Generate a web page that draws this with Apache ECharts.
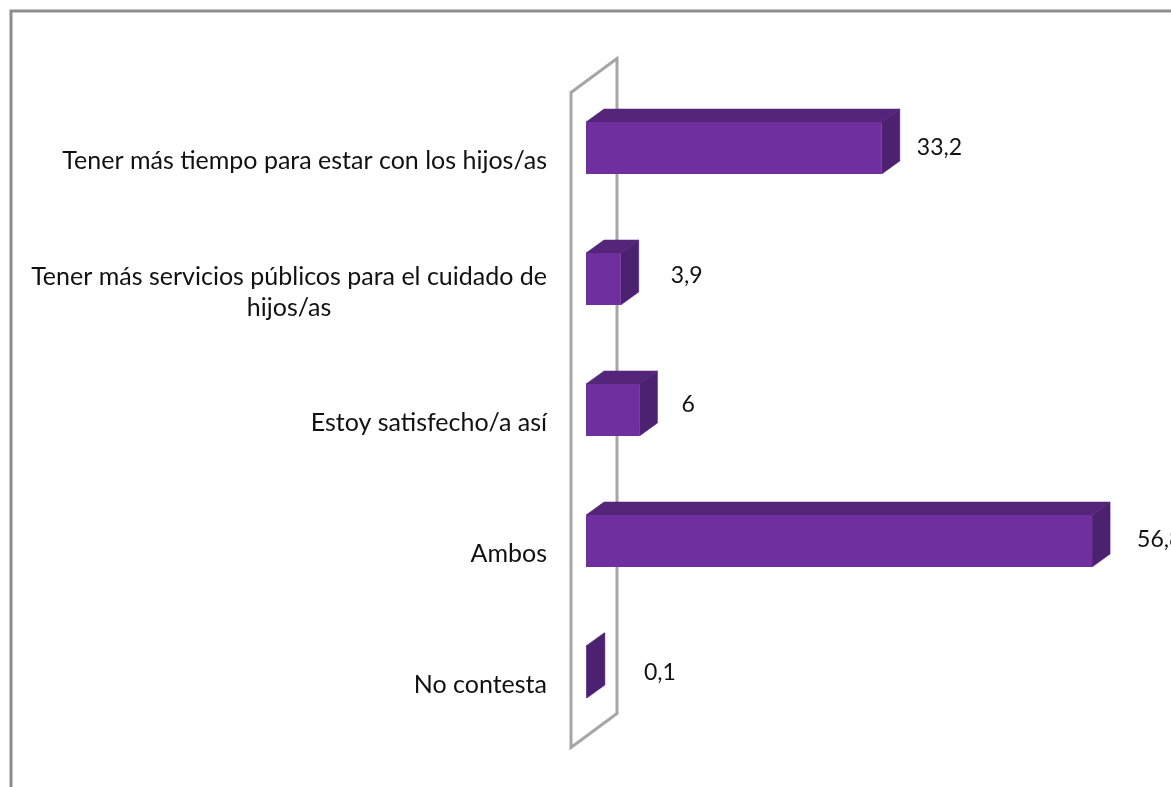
<!DOCTYPE html>
<html>
<head>
<meta charset="utf-8">
<script src="https://cdn.jsdelivr.net/npm/echarts@6/dist/echarts.min.js"></script>
<style>
  html, body { margin: 0; padding: 0; background: #fff; }
  #main { width: 1171px; height: 787px; }
</style>
</head>
<body>
<div id="main"></div>
<script>
const categories = [
  'Tener más tiempo para estar con los hijos/as',
  'Tener más servicios públicos para el cuidado de\nhijos/as',
  'Estoy satisfecho/a así',
  'Ambos',
  'No contesta'
];
const values = [33.2, 3.9, 6, 56.8, 0.1];

const FONT = 'Lato, "Open Sans", sans-serif';
const DEPTH_X = 18;
const DEPTH_Y = -13;
// the value labels were placed by hand in the original, so each has its own gap
const labelGap = [35, 50, 42, 45, 57];
const labelRise = [0, 3, 5, 1, -1];

const myChart = echarts.init(document.getElementById('main'));

function renderBar(params, api) {
  const i = api.value(2);
  const end = api.coord([api.value(0), i]);
  const start = api.coord([0, i]);
  const h = api.size([0, 1])[1] * 0.397;
  const x0 = start[0], x1 = end[0];
  const y0 = end[1] - h / 2, y1 = end[1] + h / 2;
  const poly = (points, fill) => ({
    type: 'polygon',
    shape: { points },
    style: { fill, stroke: fill, lineWidth: 0.5 }
  });
  return {
    type: 'group',
    children: [
      poly([[x0, y0], [x0 + DEPTH_X, y0 + DEPTH_Y], [x1 + DEPTH_X, y0 + DEPTH_Y], [x1, y0]], '#55257c'),
      poly([[x1, y0], [x1 + DEPTH_X, y0 + DEPTH_Y], [x1 + DEPTH_X, y1 + DEPTH_Y], [x1, y1]], '#4b2170'),
      { type: 'rect', shape: { x: x0, y: y0, width: x1 - x0, height: h }, style: { fill: '#6f2f9f' } },
      {
        type: 'text',
        style: {
          x: x1 + labelGap[i],
          y: end[1] - labelRise[i],
          text: String(api.value(0)).replace('.', ','),
          font: '23px ' + FONT,
          fill: '#111',
          verticalAlign: 'middle'
        }
      }
    ]
  };
}

function renderWall(params, api) {
  const cs = params.coordSys;
  const xl = cs.x - 15, xr = cs.x + 31;
  const top = cs.y, bottom = cs.y + cs.height;
  return {
    type: 'polygon',
    shape: { points: [[xl, top + 10], [xr, top - 24], [xr, bottom - 24], [xl, bottom + 10]] },
    style: { fill: 'none', stroke: '#a6a6a6', lineWidth: 3 }
  };
}

const option = {
  backgroundColor: '#fff',
  animation: false,
  graphic: [{
    type: 'polyline',
    shape: { points: [[11, 787], [11, 11], [1171, 11]] },
    style: { fill: 'none', stroke: '#8c8c8c', lineWidth: 3 }
  }],
  grid: { left: 586, top: 82.5, width: 534.6, height: 655 },
  xAxis: { type: 'value', min: 0, max: 60, show: false },
  yAxis: {
    type: 'category',
    inverse: true,
    data: categories,
    axisLine: { show: false },
    axisTick: { show: false },
    splitLine: { show: false },
    axisLabel: {
      margin: 39,
      padding: [26, 0, 0, 0],
      formatter: (v) => {
        const lines = v.split('\n');
        return lines.map((l, n) => (n === 0 ? '{a|' + l + '}' : '{b|' + l + '}')).join('\n');
      },
      rich: {
        a: { fontFamily: FONT, fontSize: 25, color: '#111', lineHeight: 31 },
        b: { fontFamily: FONT, fontSize: 25, color: '#111', lineHeight: 31, align: 'center' }
      }
    }
  },
  series: [
    {
      type: 'custom',
      renderItem: renderWall,
      data: [[0, 0]],
      encode: { x: 0, y: 1 },
      silent: true,
      clip: false,
      z: 1
    },
    {
      type: 'custom',
      renderItem: renderBar,
      data: values.map((v, i) => [v, categories[i], i]),
      encode: { x: 0, y: 1 },
      clip: false,
      z: 2
    }
  ]
};

myChart.setOption(option);
</script>
</body>
</html>
